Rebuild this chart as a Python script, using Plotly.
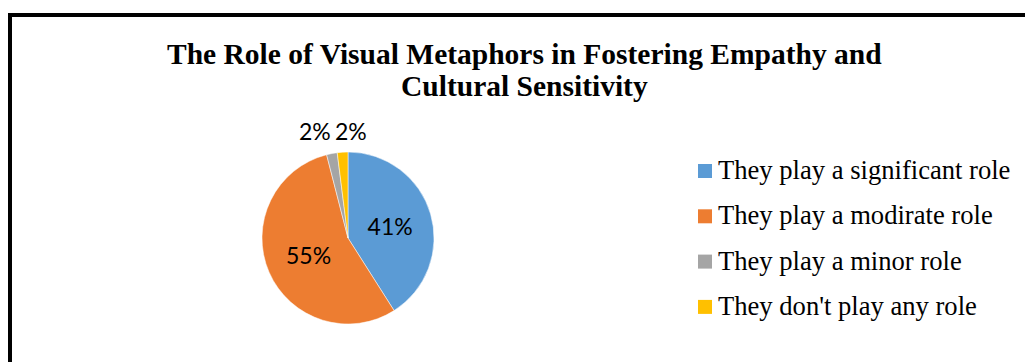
import plotly.graph_objects as go

labels = ["They play a significant role", "They play a modirate role",
          "They play a minor role", "They don't play any role"]
values = [41, 55, 2, 2]
colors = ["#5B9BD5", "#ED7D31", "#A5A5A5", "#FFC000"]
title_lines = ["The Role of Visual Metaphors in Fostering Empathy and",
               "Cultural Sensitivity"]

W, H = 1025, 362
cx, cy, rad = 348, 238, 86

total = sum(values)
pct = [f"{round(100 * v / total)}%" for v in values]
# large slices labelled inside by plotly; small slices labelled above the pie
text_pos = ["inside" if v / total > 0.05 else "none" for v in values]

fig = go.Figure()
fig.add_trace(go.Pie(
    labels=labels, values=values, sort=False, direction="clockwise", rotation=0,
    marker=dict(colors=colors, line=dict(color="white", width=0.5)),
    texttemplate="%{percent:.0%}", textposition=text_pos,
    insidetextorientation="horizontal",
    textfont=dict(family="Lato", size=23, color="black"),
    showlegend=False,
    domain=dict(x=[(cx - rad) / W, (cx + rad) / W],
                y=[(H - cy - rad) / H, (H - cy + rad) / H]),
))

shapes = [dict(type="rect", xref="paper", yref="paper",
               x0=10 / W, x1=1.05, y0=-0.05, y1=1 - 15 / H,
               line=dict(color="black", width=4))]
annotations = []
for i, (line, yc) in enumerate(zip(title_lines, [54, 86])):
    annotations.append(dict(text="<b>" + line + "</b>", xref="paper", yref="paper",
                            x=524 / W, y=1 - yc / H, xanchor="center", yanchor="middle",
                            showarrow=False,
                            font=dict(family="Liberation Serif", size=29.5, color="black")))

# small-slice labels, side by side above the pie
small = [p for p, tp in zip(pct, text_pos) if tp == "none"]
join_x = 333
for j, p in enumerate(small):
    annotations.append(dict(text=p, xref="paper", yref="paper",
                            x=join_x / W, y=1 - 131 / H,
                            xanchor="right" if j == 0 else "left", yanchor="middle",
                            showarrow=False,
                            font=dict(family="Lato", size=23, color="black")))

row0, gap = 171, 45.3
for i, (lab, col) in enumerate(zip(labels, colors)):
    yc = row0 + i * gap
    shapes.append(dict(type="rect", xref="paper", yref="paper",
                       x0=698 / W, x1=712 / W,
                       y0=1 - (yc + 7) / H, y1=1 - (yc - 7) / H,
                       fillcolor=col, line=dict(width=0)))
    annotations.append(dict(text=lab, xref="paper", yref="paper",
                            x=716 / W, y=1 - (yc - 1) / H, xanchor="left", yanchor="middle",
                            showarrow=False,
                            font=dict(family="Liberation Serif", size=26.6, color="black")))

fig.update_layout(width=W, height=H, margin=dict(l=0, r=0, t=0, b=0),
                  paper_bgcolor="white", plot_bgcolor="white",
                  shapes=shapes, annotations=annotations)
fig.write_html("out.html")
